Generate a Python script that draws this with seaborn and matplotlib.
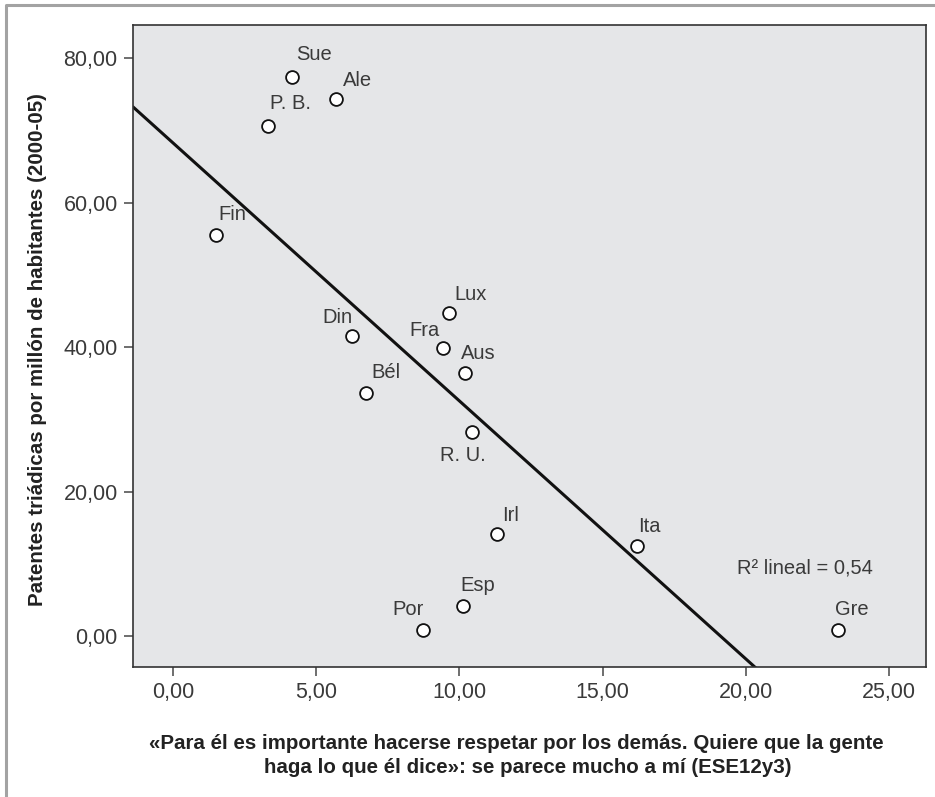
import matplotlib
matplotlib.use("Agg")
import matplotlib.pyplot as plt
import seaborn as sns
import pandas as pd
from matplotlib.ticker import FuncFormatter
from matplotlib.lines import Line2D

# values
paises = ["Sue", "Ale", "P. B.", "Fin", "Lux", "Din", "Fra", "Aus",
          "Bél", "R. U.", "Irl", "Ita", "Esp", "Por", "Gre"]
respeto = [4.16, 5.69, 3.32, 1.50, 9.64, 6.25, 9.43, 10.20,
           6.74, 10.44, 11.31, 16.20, 10.13, 8.73, 23.22]
patentes = [77.4, 74.3, 70.6, 55.5, 44.7, 41.5, 39.9, 36.4,
            33.6, 28.2, 14.1, 12.5, 4.15, 0.83, 0.83]
# label offsets in pixels (dx, dy) relative to each point
offsets = [(22, 22), (21, 19), (22, 22), (16, 21), (21, 19), (-15, 19), (-19, 17), (13, 20),
           (20, 21), (-9, -23), (14, 19), (12, 19), (15, 21), (-15, 21), (14, 21)]

df = pd.DataFrame({"pais": paises, "x": respeto, "y": patentes})

sns.set_style("white")
plt.rcParams["font.family"] = ["Liberation Sans", "DejaVu Sans"]

txt = "#3a3a3a"
fig = plt.figure(figsize=(9.35, 7.97), dpi=100)
ax = fig.add_axes([133 / 935, 1 - 667 / 797, (926 - 133) / 935, (667 - 25) / 797])
ax.set_facecolor("#e5e6e8")

ax.set_xlim(-1.40, 26.29)
ax.set_ylim(-4.29, 84.57)

# linear fit, extended to the axis limits
sns.regplot(data=df, x="x", y="y", ax=ax, ci=None, truncate=False, scatter=False,
            line_kws=dict(color="#111111", lw=2.2))
sns.scatterplot(data=df, x="x", y="y", ax=ax, s=85, color="white",
                edgecolor="#111111", linewidth=1.3, zorder=3)
ax.set_xlim(-1.40, 26.29)
ax.set_ylim(-4.29, 84.57)

for name, xv, yv, (dx, dy) in zip(paises, respeto, patentes, offsets):
    ax.annotate(name, (xv, yv), xytext=(dx, dy), textcoords="offset pixels",
                ha="center", va="center", fontsize=14.5, color=txt)

fig.text(805 / 935, 1 - 568 / 797, "R² lineal = 0,54", ha="center", va="center",
         fontsize=14.5, color=txt)

ax.set_xticks([0, 5, 10, 15, 20, 25])
ax.set_yticks([0, 20, 40, 60, 80])
fmt = FuncFormatter(lambda v, p: f"{v:.2f}".replace(".", ","))
ax.xaxis.set_major_formatter(fmt)
ax.yaxis.set_major_formatter(fmt)
ax.tick_params(axis="both", direction="out", length=6.5, width=1.2, color="#555555",
               labelsize=15.5, labelcolor=txt, pad=4.5, bottom=True, left=True)

for s in ax.spines.values():
    s.set_color("#333333")
    s.set_linewidth(1.2)
ax.set_xlabel("")
ax.set_ylabel("")

fig.text(38 / 935, 1 - 350 / 797, "Patentes triádicas por millón de habitantes (2000-05)",
         rotation=90, ha="center", va="center", fontsize=14.8, fontweight="bold", color="#222222")
fig.text(516 / 935, 1 - 749 / 797,
         "«Para él es importante hacerse respetar por los demás. Quiere que la gente",
         ha="center", va="baseline", fontsize=14.8, fontweight="bold", color="#222222")
fig.text(528 / 935, 1 - 773 / 797,
         "haga lo que él dice»: se parece mucho a mí (ESE12y3)",
         ha="center", va="baseline", fontsize=14.8, fontweight="bold", color="#222222")

# grey frame around the figure (top and left only)
fig.add_artist(Line2D([6 / 935, 6 / 935, 1], [0, 1 - 5 / 797, 1 - 5 / 797],
                      transform=fig.transFigure, color="#a3a3a3", lw=2.2))

fig.savefig("out.png", dpi=100)
